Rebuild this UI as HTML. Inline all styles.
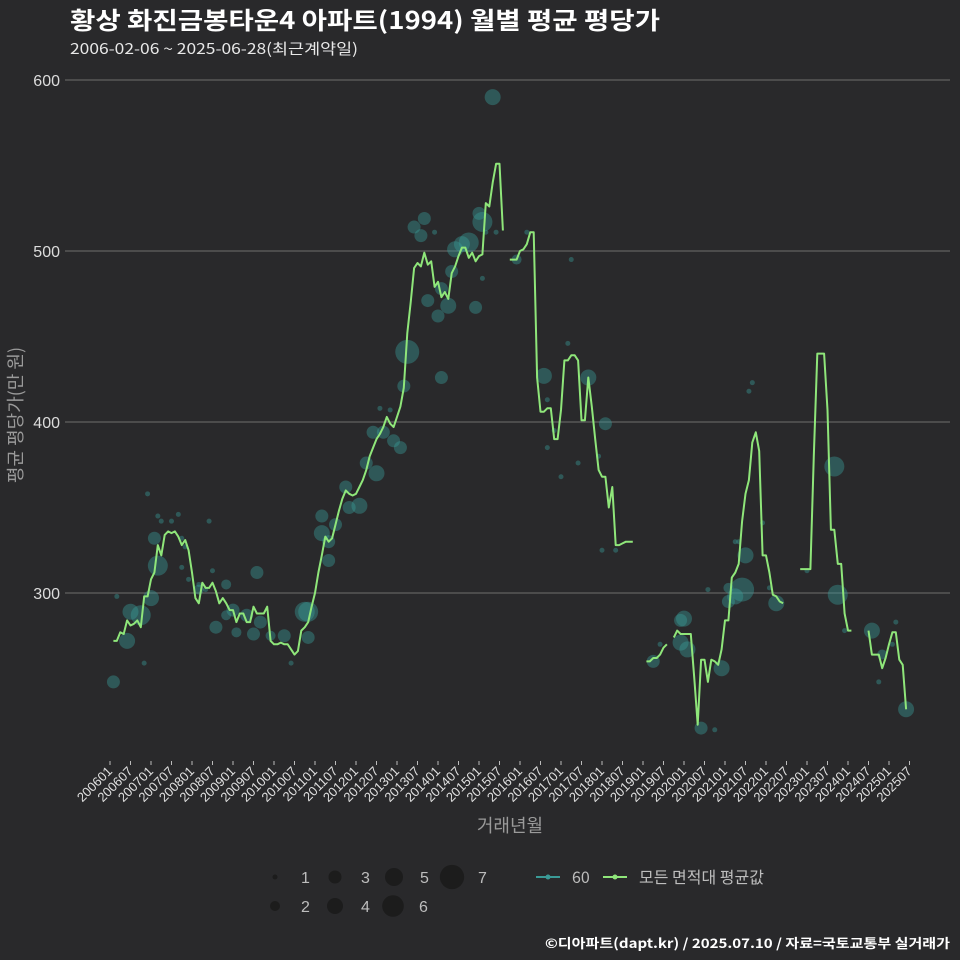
<!DOCTYPE html>
<html><head><meta charset="utf-8">
<style>
html,body{margin:0;padding:0;background:#29292b;}
svg{display:block;font-family:"Liberation Sans","Noto Sans CJK KR",sans-serif;}
</style></head>
<body>
<svg id="chart" width="960" height="960" viewBox="0 0 960 960" xmlns="http://www.w3.org/2000/svg">
<rect x="0" y="0" width="960" height="960" fill="#29292b"/>
<text x="70" y="29" fill="#ffffff" font-size="24" font-weight="bold" textLength="590" lengthAdjust="spacingAndGlyphs" font-family="'Noto Sans CJK KR',sans-serif">황상 화진금봉타운4 아파트(1994) 월별 평균 평당가</text>
<text x="70" y="54" fill="#e8e8e8" font-size="15" textLength="288" lengthAdjust="spacingAndGlyphs" font-family="'Noto Sans CJK KR',sans-serif">2006-02-06 ~ 2025-06-28(최근계약일)</text>
<g id="grid"></g>
<g id="yticks"></g>
<g id="xticks"></g>
<g id="bubbles"></g>
<g id="line"></g>
<text transform="translate(22,415) rotate(-90)" text-anchor="middle" fill="#9a9a9a" font-size="18" font-family="'Noto Sans CJK KR',sans-serif">평균 평당가(만 원)</text>
<text x="510" y="832" text-anchor="middle" fill="#9a9a9a" font-size="18" font-family="'Noto Sans CJK KR',sans-serif">거래년월</text>
<g id="legend"></g>
<text x="950" y="948" text-anchor="end" fill="#ffffff" font-size="13" font-weight="bold" textLength="405" lengthAdjust="spacingAndGlyphs" font-family="'Noto Sans CJK KR',sans-serif">©디아파트(dapt.kr) / 2025.07.10 / 자료=국토교통부 실거래가</text>
</svg>
<script>
// ---- data ----
const yTicks = [300, 400, 500, 600];
const xTickLabels = ["200601","200607","200701","200707","200801","200807","200901","200907","201001","201007","201101","201107","201201","201207","201301","201307","201401","201407","201501","201507","201601","201607","201701","201707","201801","201807","201901","201907","202001","202007","202101","202107","202201","202207","202301","202307","202401","202407","202501","202507"];
// month index counted from 2006-01 (=0)
const avgMonths = [1,2,3,4,5,6,7,8,9,10,11,12,13,14,15,16,17,18,19,20,21,22,23,24,25,26,27,28,29,30,31,32,33,34,35,36,37,38,39,40,41,42,43,44,45,46,47,48,49,50,51,52,53,54,55,56,57,58,59,60,61,62,63,64,65,66,67,68,69,70,71,72,73,74,75,76,77,78,79,80,81,82,83,84,85,86,87,88,89,90,91,92,93,94,95,96,97,98,99,100,101,102,103,104,105,106,107,108,109,110,111,112,113,114,115,
116,117,118,119,120,121,122,123,124,125,126,127,128,129,130,131,132,133,134,135,136,137,138,139,140,141,142,143,144,145,146,147,148,149,150,151,152,153,
154,157,158,159,160,161,162,163,164,165,166,167,168,169,170,171,172,173,174,175,176,177,178,179,180,181,182,183,184,185,186,187,188,189,190,191,192,193,194,195,196,197,
198,202,203,204,205,206,207,208,209,210,211,212,213,214,215,216,217,218,222,223,224,225,226,227,228,229,230,231,232,233];
const avgValues = [272,272,277,276,284,281,282,284,280,298,298,308,312,328,322,334,336,335,336,333,328,331,325,312,297,294,306,303,303,306,301,294,297,294,290,290,283,288,288,283,283,292,288,288,288,292,272,270,270,271,270,270,267,264,266,278,280,283,292,300,312,322,333,330,332,340,348,355,360,358,357,358,362,366,372,380,385,390,393,397,403,399,397,403,409,420,452,470,490,493,491,499,492,494,479,482,473,476,472,487,491,497,502,502,496,499,494,497,498,528,526,540,551,551,512,
null,495,495,495,500,501,504,511,511,426,406,406,408,408,390,390,407,436,436,439,439,436,401,401,426,409,390,372,368,368,350,362,328,328,329,330,330,330,
null,260,260,262,262,264,268,270,null,274,278,276,276,276,276,250,223,261,261,248,261,260,258,267,284,284,309,312,317,342,358,366,388,394,383,322,322,312,299,298,295,294,
null,314,314,314,314,380,440,440,440,407,337,337,317,317,288,278,278,null,278,264,264,264,256,262,270,277,277,261,258,232];
const bubbleMonths = [
1,2,5,6,9,10,11,12,13,14,
14,15,18,20,21,21,22,23,26,26,
28,29,30,31,34,34,36,37,40,42,
43,44,47,51,53,57,58,58,62,62,
64,64,66,69,70,73,75,77,78,79,
80,82,83,85,86,87,89,91,92,93,
95,96,97,97,99,100,101,103,105,107,
108,109,109,110,112,113,119,122,127,128,
128,130,132,134,135,137,140,143,145,144,
148,159,161,167,167,168,169,173,177,175,
179,181,181,183,185,183,186,187,188,184,
191,193,195,204,212,213,215,223,226,225,
229,230,233];
const bubbleValues = [
248,298,272,289,287,259,358,297,332,345,
316,342,342,346,315,332,327,308,302,305,
302,342,313,280,287,305,290,277,287,276,
312,283,275,275,259,289,289,274,345,335,
319,330,340,362,350,351,376,394,370,408,
394,407,389,385,421,441,514,509,519,471,
511,462,426,478,468,488,501,504,505,467,
522,517,484,511,590,511,495,511,427,413,
385,395,368,446,495,376,426,380,399,325,
325,260,270,284,271,285,267,221,220,302,
256,303,295,298,302,330,322,418,423,330,
341,303,294,313,374,299,278,278,264,248,
270,283,232];
const bubbleCounts = [
3,1,4,4,5,1,1,4,3,1,
5,1,1,1,1,1,1,1,2,1,
1,1,1,3,2,2,3,2,3,3,
3,3,2,3,1,5,5,3,3,4,
3,3,3,3,3,4,3,3,4,1,
3,1,3,3,3,6,3,3,3,3,
1,3,3,3,4,3,4,4,5,3,
3,5,1,1,4,1,2,1,4,1,
1,1,1,1,1,1,4,1,3,1,
1,3,1,3,4,4,4,3,1,1,
4,2,3,4,6,1,4,1,1,1,
1,1,4,1,5,5,1,4,2,1,
1,1,4];
const sizeLegend = [1,2,3,4,5,6,7];

// ---- scales ----
const NS = "http://www.w3.org/2000/svg";
const plotL = 65, plotR = 950;
function xScale(m){ return 110 + m * (20.5/6); }
function yScale(v){ return 593 - (v - 300) * 1.71; }
function rScale(c){ return [0,2.5,5,6.5,8,10,12,13.5][c]; }
function mk(tag, attrs, parent){
  const el = document.createElementNS(NS, tag);
  for (const k in attrs) el.setAttribute(k, attrs[k]);
  parent.appendChild(el);
  return el;
}

// grid + y ticks
const grid = document.getElementById('grid');
const yt = document.getElementById('yticks');
yTicks.forEach(v => {
  const ln = mk('line', {x1:plotL, x2:plotR, y1:yScale(v), y2:yScale(v), stroke:'#6e6e6e', 'stroke-width':1}, grid);
  
  
  const t = mk('text', {x:60, y:yScale(v)+6, 'text-anchor':'end', fill:'#dcdcdc', 'font-size':16}, yt);
  t.textContent = v;
  
  
});

// x ticks
const xt = document.getElementById('xticks');
xTickLabels.forEach((lab, i) => {
  const x = xScale(i * 6);
  const tk = mk('line', {x1:x, x2:x, y1:761, y2:765, stroke:'#bbbbbb', 'stroke-width':1}, xt);
  
  
  const t = mk('text', {x:x+3, y:772, 'text-anchor':'end', fill:'#e0e0e0', 'font-size':13, transform:'rotate(-45 '+(x+3)+' 772)'}, xt);
  t.textContent = lab;
  
  
});

// bubbles
const bg = document.getElementById('bubbles');
bubbleMonths.forEach((m, i) => {
  const c = mk('circle', {cx:xScale(m), cy:yScale(bubbleValues[i]), r:rScale(bubbleCounts[i]), fill:'#3a9a96', 'fill-opacity':0.42}, bg);
  
  
});

// line segments
const lg = document.getElementById('line');
let seg = [];
function flush(){
  if (seg.length > 1) {
    const p = mk('polyline', {points:seg.join(' '), fill:'none', stroke:'#8fe67a', 'stroke-width':2, 'stroke-linejoin':'round'}, lg);
    
    
  }
  seg = [];
}
avgMonths.forEach((m, i) => {
  const v = avgValues[i];
  if (v === null) { flush(); return; }
  seg.push(xScale(m).toFixed(1) + ',' + yScale(v).toFixed(1));
});
flush();

// legend
const leg = document.getElementById('legend');
const pos = [[275,877],[275,906],[335,877],[335,906],[394,877],[393,906],[452,877]];
sizeLegend.forEach((s, i) => {
  const [x, y] = pos[i];
  const c = mk('circle', {cx:x, cy:y, r:rScale(s) * (s>4?0.9:1), fill:'#1c1c1c'}, leg);
  
  
  const t = mk('text', {x:x+26, y:y+6, fill:'#bdbdbd', 'font-size':16}, leg);
  t.textContent = s;
  
  
});
function lineKey(x, color, label, name){
  const l = mk('line', {x1:x, x2:x+24, y1:877, y2:877, stroke:color, 'stroke-width':2}, leg);
  
  
  const c = mk('circle', {cx:x+12, cy:877, r:2.5, fill:color}, leg);
  
  
  const t = mk('text', {x:x+36, y:883, fill:'#bdbdbd', 'font-size':16, 'font-family':"'Noto Sans CJK KR',sans-serif"}, leg);
  t.textContent = label;
  
  
}
lineKey(536, '#3a9a96', '60', 'legend-60');
lineKey(603, '#8fe67a', '모든 면적대 평균값', 'legend-average');
</script>
</body></html>
